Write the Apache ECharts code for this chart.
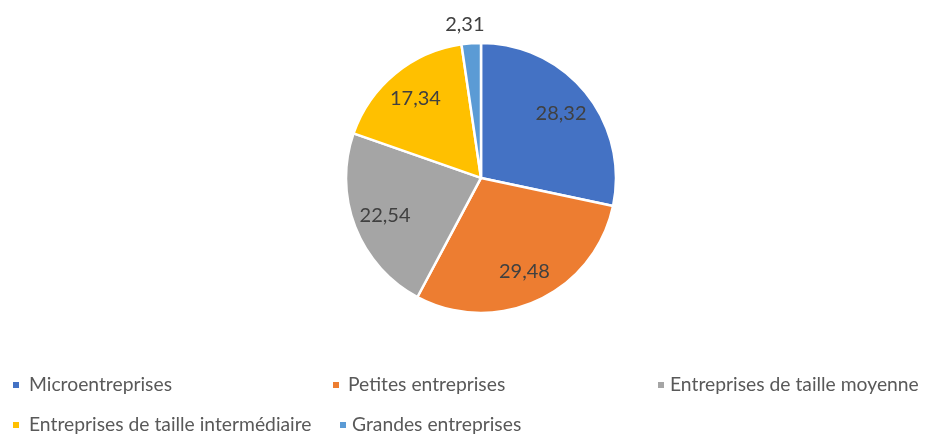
<!DOCTYPE html>
<html>
<head>
<meta charset="utf-8">
<script src="https://cdn.jsdelivr.net/npm/echarts@6/dist/echarts.min.js"></script>
<style>
  html, body { margin: 0; padding: 0; background: #fff; }
  #chart { width: 925px; height: 434px; }
</style>
</head>
<body>
<div id="chart"></div>
<script>
// Répartition par taille d'entreprise (%)
const categories = [
  'Microentreprises',
  'Petites entreprises',
  'Entreprises de taille moyenne',
  'Entreprises de taille intermédiaire',
  'Grandes entreprises'
];
const values = [28.32, 29.48, 22.54, 17.34, 2.31];
const colors = ['#4472C4', '#ED7D31', '#A5A5A5', '#FFC000', '#5B9BD5'];

const FONT = 'Lato, "Open Sans", sans-serif';
const fmt = v => v.toFixed(2).replace('.', ',');

const pieData = categories.map((name, i) => ({ name, value: values[i] }));

// Labels of small slices go outside the pie, the others sit inside.
const labelData = categories.map((name, i) => {
  const item = { name, value: values[i] };
  if (values[i] < 5) {
    item.label = { position: 'outside' };
  }
  return item;
});

// Legend laid out as a grid: one component per entry.
const legendSlots = [
  { left: 11, top: 375, gap: 4 },
  { left: 331, top: 375, gap: 3 },
  { left: 656, top: 375, gap: 0 },
  { left: 11, top: 415, gap: 4 },
  { left: 338, top: 415, gap: 0 }
];
const legends = categories.map((name, i) => ({
  data: [name],
  left: legendSlots[i].left,
  top: legendSlots[i].top,
  orient: 'horizontal',
  padding: 0,
  icon: 'rect',
  itemWidth: 8,
  itemHeight: 8,
  selectedMode: false,
  textStyle: {
    fontFamily: FONT,
    fontSize: 19.3,
    color: '#595959',
    lineHeight: 20,
    padding: [0, 0, 0, legendSlots[i].gap]
  }
}));

const chart = echarts.init(document.getElementById('chart'), null, { renderer: 'canvas' });
chart.setOption({
  animation: false,
  color: colors,
  legend: legends,
  series: [
    {
      type: 'pie',
      center: ['52%', '41%'],
      radius: 135,
      startAngle: 90,
      clockwise: true,
      data: pieData,
      label: { show: false },
      labelLine: { show: false },
      itemStyle: { borderColor: '#ffffff', borderWidth: 2.5 },
      emphasis: { disabled: true }
    },
    {
      // transparent ring carrying the value labels at ~3/4 of the radius
      type: 'pie',
      center: ['52%', '41%'],
      radius: [65, 135],
      startAngle: 90,
      clockwise: true,
      silent: true,
      legendHoverLink: false,
      data: labelData,
      itemStyle: { color: 'rgba(0,0,0,0)', borderWidth: 0 },
      emphasis: { disabled: true },
      label: {
        show: true,
        position: 'inside',
        formatter: p => fmt(p.value),
        fontFamily: FONT,
        fontSize: 20,
        color: '#404040'
      },
      labelLine: { show: false, length: 19, length2: 0 },
      labelLayout: p => (values[p.dataIndex] < 5 ? { align: 'center' } : undefined)
    }
  ]
});
</script>
</body>
</html>
